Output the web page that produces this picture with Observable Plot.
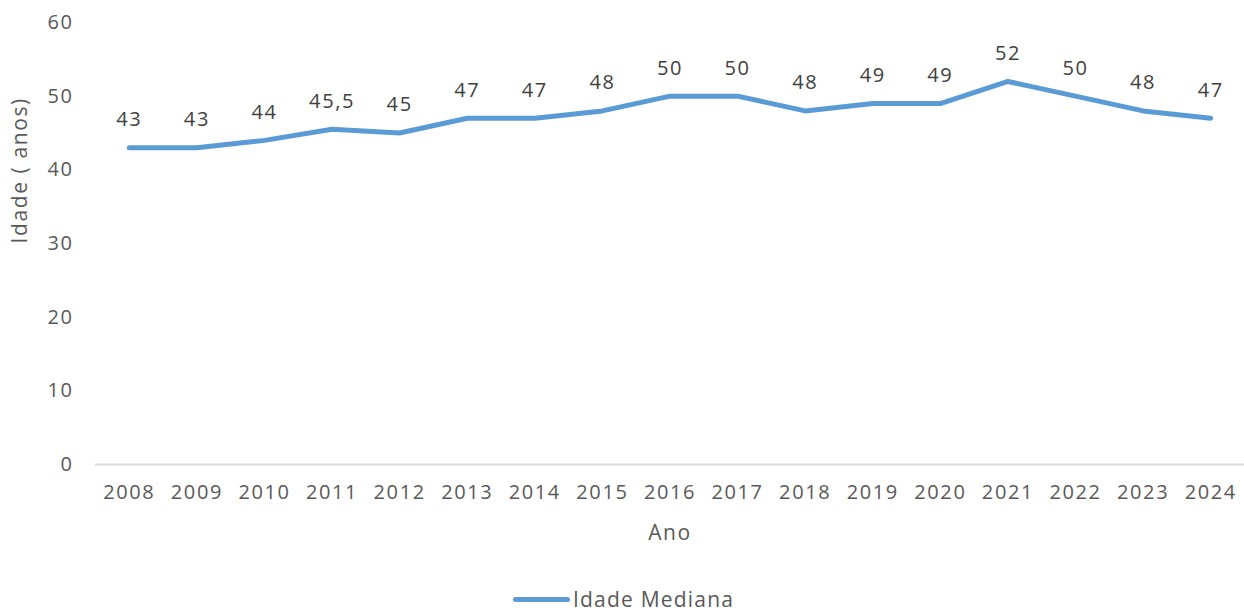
<!DOCTYPE html>
<html>
<head>
<meta charset="utf-8">
<script src="https://cdn.jsdelivr.net/npm/d3@7"></script>
<script src="https://cdn.jsdelivr.net/npm/@observablehq/plot@0.6"></script>
<style>
  html, body { margin: 0; padding: 0; background: #fff; }
  body { width: 1244px; height: 614px; overflow: hidden; font-family: "Open Sans", sans-serif; }
  #chart svg text { letter-spacing: 1.6px; }
  #legend { position: relative; height: 54px; }
  #legend .item { position: absolute; left: 513px; top: 27px; display: flex; align-items: center; color: #595959; font-size: 21px; letter-spacing: 1.2px; line-height: 24px; }
  #legend .sw { width: 57px; height: 5px; background: #5b9bd5; border-radius: 3px; margin-right: 3px; }
</style>
</head>
<body>
<div id="chart"></div>
<div id="legend"><div class="item"><span class="sw"></span><span>Idade Mediana</span></div></div>
<script>
const years = ["2008","2009","2010","2011","2012","2013","2014","2015","2016","2017","2018","2019","2020","2021","2022","2023","2024"];
const medianAge = [43, 43, 44, 45.5, 45, 47, 47, 48, 50, 50, 48, 49, 49, 52, 50, 48, 47];
const yTicks = [0, 10, 20, 30, 40, 50, 60];

const data = years.map((y, i) => ({year: y, value: medianAge[i]}));
const fmt = v => String(v).replace(".", ",");

const chart = Plot.plot({
  width: 1244,
  height: 560,
  marginTop: 22,
  marginBottom: 96,
  marginLeft: 95,
  marginRight: 0,
  style: {fontFamily: "Open Sans, sans-serif", fontSize: "20px", color: "#595959", background: "#fff"},
  x: {type: "band", domain: years, padding: 0, round: false, label: null},
  y: {domain: [0, 60], ticks: yTicks, label: null},
  marks: [
    Plot.axisY({ticks: yTicks, tickSize: 0, tickPadding: 0, dx: -22, fill: "#595959", fontSize: 20, label: null}),
    Plot.axisX({tickSize: 0, tickPadding: 20, fill: "#595959", fontSize: 20, label: null}),
    Plot.ruleY([0], {stroke: "#d9d9d9", strokeWidth: 2}),
    Plot.line(data, {x: "year", y: "value", stroke: "#5b9bd5", strokeWidth: 5, strokeLinecap: "round", strokeLinejoin: "round"}),
    Plot.text(data, {x: "year", y: "value", text: d => fmt(d.value), dy: -28, fill: "#404040", fontSize: 20}),
    Plot.text(["Ano"], {frameAnchor: "bottom", dy: 75, fill: "#595959", fontSize: 21}),
    Plot.text(["Idade ( anos)"], {frameAnchor: "left", dx: -75, rotate: -90, fill: "#595959", fontSize: 21})
  ]
});
document.getElementById("chart").appendChild(chart);
</script>
</body>
</html>
